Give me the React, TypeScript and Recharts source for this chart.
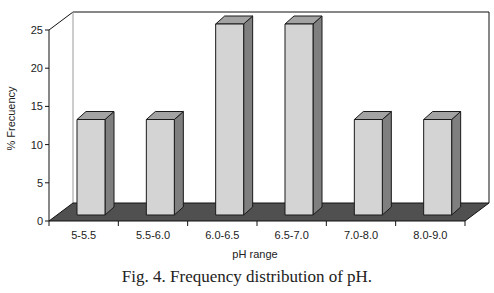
import React from 'react'
import { Bar, BarChart, ReferenceArea, XAxis, YAxis } from 'recharts'

const phRanges = ['5-5.5', '5.5-6.0', '6.0-6.5', '6.5-7.0', '7.0-8.0', '8.0-9.0']
const frequency = [12.5, 12.5, 25, 25, 12.5, 12.5]
const yTicks = [0, 5, 10, 15, 20, 25]

const chartData = phRanges.map((name, i) => ({ name, value: frequency[i] }))

const W = 494
const H = 264
const LEFT = 49
const RIGHT = 29
const BAND = (W - LEFT - RIGHT) / phRanges.length

// depth of the "3D" room and of each bar
const WALL_DX = 24
const WALL_DY = 18
const BAR_SHIFT_X = 7
const BAR_SHIFT_Y = 6
const BAR_DX = 9
const BAR_DY = 8

const TICK_SIZE = 5
const TICK_MARGIN = 5
const FONT = 'Arial, "Liberation Sans", sans-serif'

// back wall, side wall and floor, drawn from the plot rectangle
const Room = (props: any) => {
  const { x, y, width, height } = props
  const bx = x + WALL_DX
  const by = y - WALL_DY
  const bottom = y + height
  return (
    <g>
      <rect x={bx} y={by} width={width} height={height} fill="#fff" stroke="none" />
      <polygon
        points={`${x},${y} ${bx},${by} ${bx},${bottom - WALL_DY} ${x},${bottom}`}
        fill="#fff"
      />
      <line x1={x} y1={y} x2={bx} y2={by} stroke="#111" />
      <line x1={bx} y1={by} x2={bx + width} y2={by} stroke="#111" />
      <line x1={bx + width} y1={by} x2={bx + width} y2={bottom - WALL_DY} stroke="#111" />
      <line x1={bx} y1={by} x2={bx} y2={bottom - WALL_DY} stroke="#999" />
      <polygon
        points={`${x},${bottom} ${x + width},${bottom} ${bx + width},${bottom - WALL_DY} ${bx},${bottom - WALL_DY}`}
        fill="#505050"
        stroke="#111"
        strokeLinejoin="miter"
      />
    </g>
  )
}

const Bar3D = (props: any) => {
  const { x, y, width, height } = props
  if (height == null || width == null) return null
  const fx = x + BAR_SHIFT_X
  const fy = y - BAR_SHIFT_Y
  const fb = fy + height
  const r = fx + width
  return (
    <g stroke="#1a1a1a" strokeWidth={1} strokeLinejoin="round">
      <polygon
        points={`${r},${fy} ${r + BAR_DX},${fy - BAR_DY} ${r + BAR_DX},${fb - BAR_DY} ${r},${fb}`}
        fill="#7f7f7f"
      />
      <polygon
        points={`${fx},${fy} ${fx + BAR_DX},${fy - BAR_DY} ${r + BAR_DX},${fy - BAR_DY} ${r},${fy}`}
        fill="#a3a3a3"
      />
      <rect x={fx} y={fy} width={width} height={height} fill="#d4d4d4" />
    </g>
  )
}

const PhTick = (props: any) => {
  const { x, y, payload, index } = props
  const top = y - TICK_SIZE - TICK_MARGIN
  return (
    <g>
      <line x1={x - BAND / 2} y1={top} x2={x - BAND / 2} y2={top + TICK_SIZE} stroke="#111" />
      {index === phRanges.length - 1 && (
        <line x1={x + BAND / 2} y1={top} x2={x + BAND / 2} y2={top + TICK_SIZE} stroke="#111" />
      )}
      <text x={x} y={y} dy="0.71em" textAnchor="middle" fontSize={11} fill="#222" fontFamily={FONT}>
        {payload.value}
      </text>
    </g>
  )
}

const YLabel = (props: any) => {
  const { viewBox } = props
  const cx = 11
  const cy = viewBox.y + viewBox.height / 2 - 7
  return (
    <text
      x={cx}
      y={cy}
      transform={`rotate(-90, ${cx}, ${cy})`}
      textAnchor="middle"
      dominantBaseline="central"
      fontSize={11}
      fill="#222"
      fontFamily={FONT}
    >
      % Frecuency
    </text>
  )
}

const App = () => {
  return (
    <div style={{ position: 'absolute', left: 0, top: 0, width: W, height: 293, background: '#fff' }}>
      <BarChart
        width={W}
        height={H}
        data={chartData}
        margin={{ top: 30, right: RIGHT, left: 0, bottom: H - 258 }}
        barSize={28}
        style={{ fontFamily: FONT }}
      >
        <ReferenceArea y1={0} y2={25} shape={<Room />} ifOverflow="visible" />
        <XAxis
          dataKey="name"
          height={37}
          axisLine={false}
          tickLine={false}
          tickSize={TICK_SIZE}
          tickMargin={TICK_MARGIN}
          interval={0}
          tick={<PhTick />}
          label={{ value: 'pH range', position: 'insideBottom', offset: 0, fontSize: 11, fill: '#222', dx: -2 }}
        />
        <YAxis
          width={LEFT}
          domain={[0, 25]}
          ticks={yTicks}
          interval={0}
          axisLine={{ stroke: '#111' }}
          tickLine={{ stroke: '#111' }}
          tickSize={4}
          tickMargin={2}
          tick={{ fontSize: 11, fill: '#222' }}
          label={{ content: <YLabel /> }}
        />
        <Bar dataKey="value" shape={<Bar3D />} isAnimationActive={false} />
      </BarChart>
      <div
        style={{
          position: 'absolute',
          left: 0,
          top: 267,
          width: W,
          textAlign: 'center',
          fontFamily: '"Times New Roman", "Liberation Serif", serif',
          fontSize: 17,
          lineHeight: '20px',
          color: '#222',
        }}
      >
        Fig. 4. Frequency distribution of pH.
      </div>
    </div>
  )
}

export default App
